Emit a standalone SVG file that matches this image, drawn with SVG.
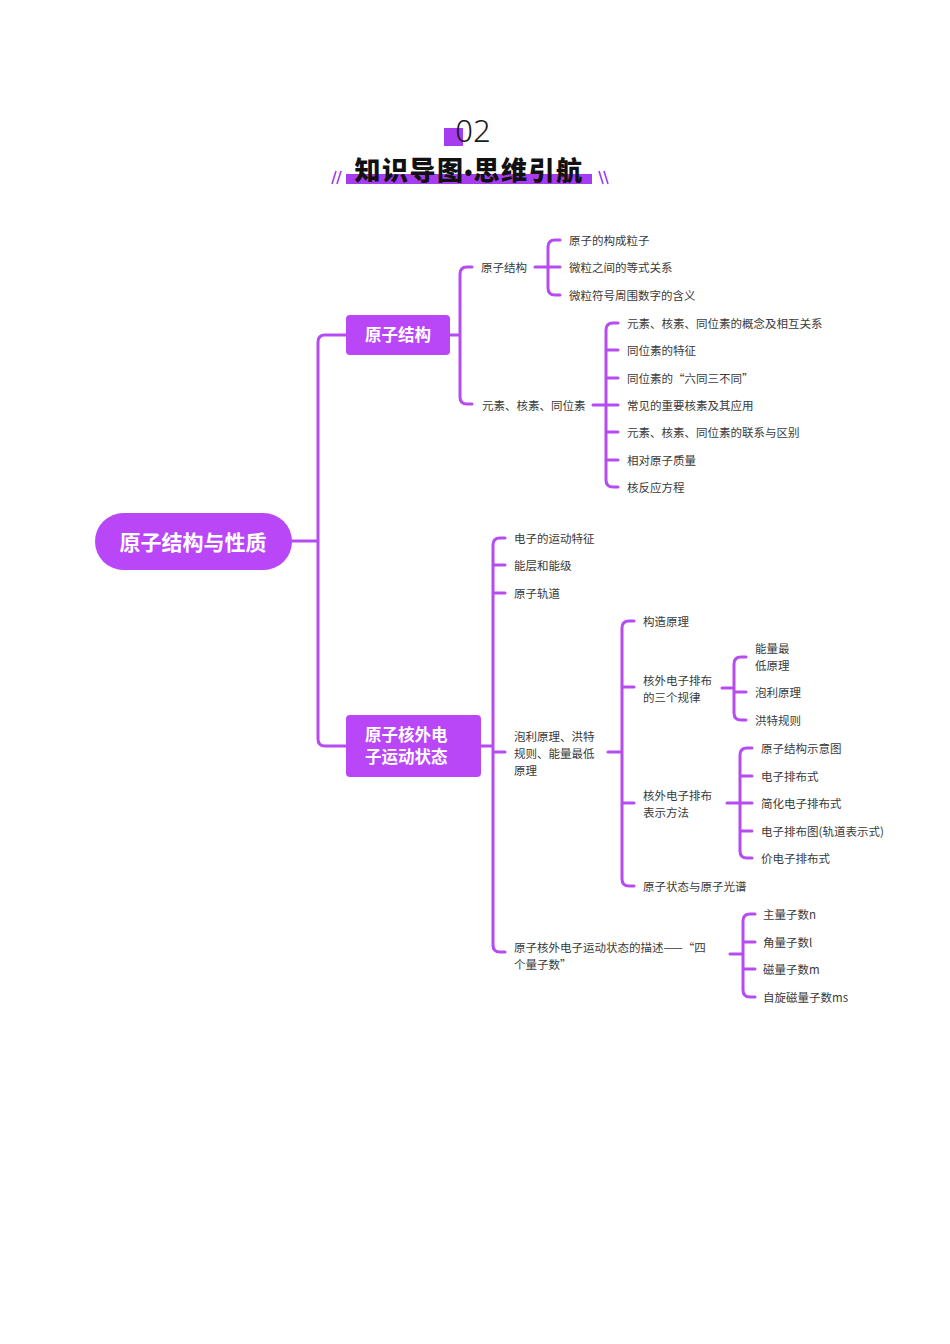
<svg xmlns="http://www.w3.org/2000/svg" width="950" height="1344" viewBox="0 0 950 1344">
  <style>
    .ln { fill: none; stroke: #b64bf3; stroke-width: 3; stroke-linecap: round; stroke-linejoin: round; }
    .box { fill: #b947f8; }
    .lbl { font-family: "Noto Sans CJK SC", "Noto Sans", sans-serif; font-size: 11.5px; fill: #3a3a3a; dominant-baseline: central; }
    .hd { font-family: "Noto Sans CJK SC", "Noto Sans", sans-serif; font-weight: bold; fill: #ffffff; dominant-baseline: central; }
  </style>
  <rect width="950" height="1344" fill="#ffffff"/>

  <!-- section header -->
  <g id="header">
    <rect x="444" y="128" width="19" height="18" fill="#a63cf0"/>
    <text x="473" y="142" text-anchor="middle" font-family="Noto Sans, sans-serif" font-weight="300" font-size="31" fill="#1a1a1a">02</text>
    <rect x="346" y="174" width="246" height="10" fill="#a63cf0"/>
    <text x="469" y="180" text-anchor="middle" font-family="Noto Sans CJK SC, sans-serif" font-weight="900" font-size="26" letter-spacing="1.5" fill="#111111">知识导图<tspan font-family="Liberation Sans, sans-serif" font-weight="bold" font-size="22">•</tspan>思维引航</text>
    <g stroke="#a63cf0" stroke-width="1.6" fill="none">
      <line x1="332" y1="184" x2="336" y2="171"/>
      <line x1="337" y1="184" x2="341" y2="171"/>
      <line x1="599" y1="171" x2="603" y2="184"/>
      <line x1="604" y1="171" x2="608" y2="184"/>
    </g>
  </g>

  <!-- connectors -->
  <g id="connectors">
    <!-- root to main branches -->
    <path class="ln" d="M292 541 H318 M346 335 H325 Q318 335 318 342 V739 Q318 746 325 746 H346"/>
    <!-- 原子结构 -->
    <path class="ln" d="M450 335 H460 M472 267 H467 Q460 267 460 274 V397 Q460 404 467 404 H472"/>
    <path class="ln" d="M535 267 H548 M560 240 H555 Q548 240 548 247 V288 Q548 295 555 295 H560 M548 267 H560"/>
    <path class="ln" d="M593 405 H606 M618 323 H613 Q606 323 606 330 V480 Q606 487 613 487 H618 M606 350 H618 M606 378 H618 M606 405 H618 M606 432 H618 M606 460 H618"/>
    <!-- 原子核外电子运动状态 -->
    <path class="ln" d="M481 746 H493 M505 538 H500 Q493 538 493 545 V945 Q493 952 500 952 H505 M493 565 H505 M493 593 H505 M493 752 H505"/>
    <path class="ln" d="M608 752 H622 M634 621 H629 Q622 621 622 628 V879 Q622 886 629 886 H634 M622 687 H634 M622 803 H634"/>
    <path class="ln" d="M722 688 H734 M746 657 H741 Q734 657 734 664 V713 Q734 720 741 720 H746 M734 692 H746"/>
    <path class="ln" d="M727 803 H740 M752 748 H747 Q740 748 740 755 V851 Q740 858 747 858 H752 M740 776 H752 M740 803 H752 M740 831 H752"/>
    <path class="ln" d="M730 954 H743 M755 914 H750 Q743 914 743 921 V990 Q743 997 750 997 H755 M743 942 H755 M743 969 H755"/>
  </g>

  <!-- root -->
  <g id="root">
    <rect class="box" x="95" y="513" width="197" height="57" rx="28.5"/>
    <text class="hd" x="193" y="540.5" font-size="21" text-anchor="middle">原子结构与性质</text>
  </g>

  <!-- main branches -->
  <g id="n-structure">
    <rect class="box" x="346" y="315" width="104" height="40" rx="4"/>
    <text class="hd" x="398" y="334" font-size="16.5" text-anchor="middle">原子结构</text>
  </g>
  <g id="n-motion">
    <rect class="box" x="346" y="715" width="135" height="62" rx="4"/>
    <text class="hd" x="365" y="734" font-size="16.5">原子核外电</text>
    <text class="hd" x="365" y="756" font-size="16.5">子运动状态</text>
  </g>

  <!-- 原子结构 subtree -->
  <g id="n-s1"><text class="lbl" x="481" y="266.5">原子结构</text></g>
  <g id="n-s1a"><text class="lbl" x="569" y="239.5">原子的构成粒子</text></g>
  <g id="n-s1b"><text class="lbl" x="569" y="266.5">微粒之间的等式关系</text></g>
  <g id="n-s1c"><text class="lbl" x="569" y="294.5">微粒符号周围数字的含义</text></g>
  <g id="n-s2"><text class="lbl" x="482" y="404.5">元素、核素、同位素</text></g>
  <g id="n-s2a"><text class="lbl" x="627" y="322.5">元素、核素、同位素的概念及相互关系</text></g>
  <g id="n-s2b"><text class="lbl" x="627" y="349.5">同位素的特征</text></g>
  <g id="n-s2c"><text class="lbl" x="627" y="377.5">同位素的“六同三不同”</text></g>
  <g id="n-s2d"><text class="lbl" x="627" y="404.5">常见的重要核素及其应用</text></g>
  <g id="n-s2e"><text class="lbl" x="627" y="431.5">元素、核素、同位素的联系与区别</text></g>
  <g id="n-s2f"><text class="lbl" x="627" y="459.5">相对原子质量</text></g>
  <g id="n-s2g"><text class="lbl" x="627" y="486.5">核反应方程</text></g>

  <!-- 原子核外电子运动状态 subtree -->
  <g id="n-m1"><text class="lbl" x="514" y="537.5">电子的运动特征</text></g>
  <g id="n-m2"><text class="lbl" x="514" y="564.5">能层和能级</text></g>
  <g id="n-m3"><text class="lbl" x="514" y="592.5">原子轨道</text></g>
  <g id="n-m4">
    <text class="lbl" x="514" y="735.5">泡利原理、洪特</text>
    <text class="lbl" x="514" y="752.5">规则、能量最低</text>
    <text class="lbl" x="514" y="769.5">原理</text>
  </g>
  <g id="n-m4a"><text class="lbl" x="643" y="620.5">构造原理</text></g>
  <g id="n-m4b">
    <text class="lbl" x="643" y="679.5">核外电子排布</text>
    <text class="lbl" x="643" y="696.5">的三个规律</text>
  </g>
  <g id="n-m4b1">
    <text class="lbl" x="755" y="647.5">能量最</text>
    <text class="lbl" x="755" y="664.5">低原理</text>
  </g>
  <g id="n-m4b2"><text class="lbl" x="755" y="691.5">泡利原理</text></g>
  <g id="n-m4b3"><text class="lbl" x="755" y="719.5">洪特规则</text></g>
  <g id="n-m4c">
    <text class="lbl" x="643" y="794.5">核外电子排布</text>
    <text class="lbl" x="643" y="811.5">表示方法</text>
  </g>
  <g id="n-m4c1"><text class="lbl" x="761" y="747.5">原子结构示意图</text></g>
  <g id="n-m4c2"><text class="lbl" x="761" y="775.5">电子排布式</text></g>
  <g id="n-m4c3"><text class="lbl" x="761" y="802.5">简化电子排布式</text></g>
  <g id="n-m4c4"><text class="lbl" x="761" y="830.5">电子排布图(轨道表示式)</text></g>
  <g id="n-m4c5"><text class="lbl" x="761" y="857.5">价电子排布式</text></g>
  <g id="n-m4d"><text class="lbl" x="643" y="885.5">原子状态与原子光谱</text></g>
  <g id="n-m5">
    <text class="lbl" x="514" y="946.5">原子核外电子运动状态的描述——“四</text>
    <text class="lbl" x="514" y="963.5">个量子数”</text>
  </g>
  <g id="n-m5a"><text class="lbl" x="763" y="913.5">主量子数n</text></g>
  <g id="n-m5b"><text class="lbl" x="763" y="941.5">角量子数l</text></g>
  <g id="n-m5c"><text class="lbl" x="763" y="968.5">磁量子数m</text></g>
  <g id="n-m5d"><text class="lbl" x="763" y="996.5">自旋磁量子数ms</text></g>
</svg>
